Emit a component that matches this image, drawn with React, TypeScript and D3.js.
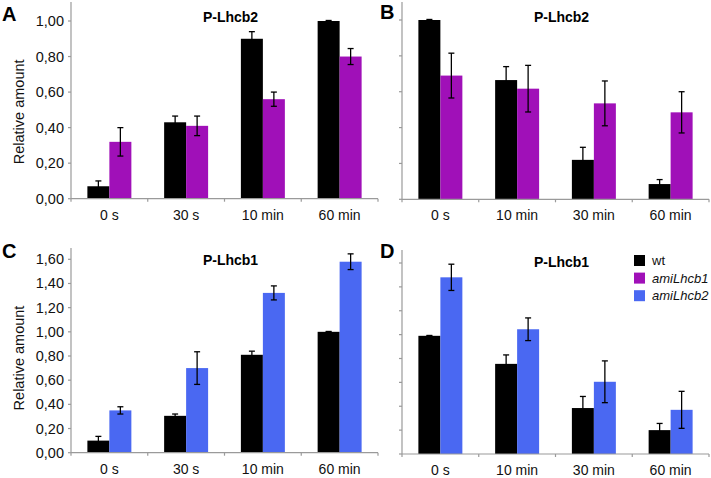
import React from "react";
import * as d3 from "d3";

const catsA = ["0 s", "30 s", "10 min", "60 min"];
const catsB = ["0 s", "10 min", "30 min", "60 min"];

const aWt = [0.07, 0.43, 0.9, 1.0];
const aWtErr = [0.03, 0.035, 0.04, 0.003];
const aMut = [0.32, 0.41, 0.56, 0.8];
const aMutErr = [0.08, 0.055, 0.04, 0.045];

const bWt = [1.0, 0.665, 0.22, 0.085];
const bWtErr = [0.003, 0.075, 0.07, 0.025];
const bMut = [0.69, 0.617, 0.535, 0.485];
const bMutErr = [0.125, 0.13, 0.125, 0.115];

const cWt = [0.1, 0.305, 0.81, 1.0];
const cWtErr = [0.035, 0.015, 0.03, 0.003];
const cMut = [0.35, 0.7, 1.322, 1.58];
const cMutErr = [0.03, 0.135, 0.058, 0.065];

const dWt = [0.99, 0.755, 0.385, 0.2];
const dWtErr = [0.003, 0.075, 0.097, 0.056];
const dMut = [1.48, 1.045, 0.605, 0.37];
const dMutErr = [0.11, 0.095, 0.175, 0.155];

const ticks1 = [0, 0.2, 0.4, 0.6, 0.8, 1.0];
const ticks2 = [0, 0.2, 0.4, 0.6, 0.8, 1.0, 1.2, 1.4, 1.6];

const legendNames = ["wt", "amiLhcb1", "amiLhcb2"];
const legendItalic = [false, true, true];

const BLACK = "#000000";
const PURPLE = "#a010b8";
const BLUE = "#4a68f2";
const AXIS = "#9a9a9a";
const FONT = "Liberation Sans, Arial, sans-serif";

type PanelProps = {
  letter: string;
  title: string;
  cats: string[];
  wt: number[];
  wtErr: number[];
  mut: number[];
  mutErr: number[];
  mutColor: string;
  left: number;
  right: number;
  y0: number;
  yMaxPx: number;
  yMax: number;
  axisTop: number;
  ticks: number[];
  showLabels: boolean;
  letterX: number;
  letterY: number;
  titleY: number;
};

function Panel(p: PanelProps) {
  const y = d3.scaleLinear().domain([0, p.yMax]).range([p.y0, p.yMaxPx]);
  const x0 = d3
    .scaleBand<string>()
    .domain(p.cats)
    .range([p.left, p.right])
    .paddingInner(0.427)
    .paddingOuter(0.2135);
  const x1 = d3
    .scaleBand<string>()
    .domain(["wt", "mut"])
    .range([0, x0.bandwidth()]);
  const step = x0.step();
  const series = [
    { key: "wt", vals: p.wt, errs: p.wtErr, color: BLACK },
    { key: "mut", vals: p.mut, errs: p.mutErr, color: p.mutColor },
  ];
  const cx = (p.left + p.right) / 2 + 6;
  return (
    <g>
      <text x={p.letterX} y={p.letterY} fontFamily={FONT} fontWeight="bold" fontSize={20}>
        {p.letter}
      </text>
      <text x={cx} y={p.titleY} textAnchor="middle" fontFamily={FONT} fontWeight="bold" fontSize={14}>
        {p.title}
      </text>
      {series.map((s) =>
        p.cats.map((c, i) => {
          const bx = (x0(c) as number) + (x1(s.key) as number);
          const bw = x1.bandwidth();
          const v = s.vals[i];
          const e = s.errs[i];
          const mx = bx + bw / 2;
          return (
            <g key={s.key + c}>
              <rect x={bx} y={y(v)} width={bw} height={p.y0 - y(v)} fill={s.color} />
              <line x1={mx} x2={mx} y1={y(v - e)} y2={y(v + e)} stroke="#000" strokeWidth={1.3} />
              <line x1={mx - 3} x2={mx + 3} y1={y(v + e)} y2={y(v + e)} stroke="#000" strokeWidth={1.3} />
              <line x1={mx - 3} x2={mx + 3} y1={y(v - e)} y2={y(v - e)} stroke="#000" strokeWidth={1.3} />
            </g>
          );
        })
      )}
      <line x1={p.left} x2={p.left} y1={p.axisTop} y2={p.y0} stroke={AXIS} strokeWidth={1.2} />
      <line x1={p.left} x2={p.right} y1={p.y0} y2={p.y0} stroke={AXIS} strokeWidth={1.2} />
      {p.ticks.map((t) => (
        <g key={"t" + t}>
          <line x1={p.left - 3} x2={p.left} y1={y(t)} y2={y(t)} stroke={AXIS} strokeWidth={1.2} />
          {p.showLabels && (
            <text
              x={p.left - 7}
              y={y(t) + 5}
              textAnchor="end"
              fontFamily={FONT}
              fontSize={14.5}
              fill="#111"
            >
              {d3.format(".2f")(t).replace(".", ",")}
            </text>
          )}
        </g>
      ))}
      {d3.range(p.cats.length + 1).map((i) => (
        <line
          key={"xt" + i}
          x1={p.left + i * step}
          x2={p.left + i * step}
          y1={p.y0}
          y2={p.y0 + 3}
          stroke={AXIS}
          strokeWidth={1.2}
        />
      ))}
      {p.cats.map((c) => (
        <text
          key={"xl" + c}
          x={(x0(c) as number) + x0.bandwidth() / 2}
          y={p.y0 + 21}
          textAnchor="middle"
          fontFamily={FONT}
          fontSize={14}
          fill="#111"
        >
          {c}
        </text>
      ))}
      {p.showLabels && (
        <text
          transform={`translate(24,${(p.y0 + p.yMaxPx) / 2 + 2}) rotate(-90)`}
          textAnchor="middle"
          fontFamily={FONT}
          fontSize={14.5}
          fill="#111"
        >
          Relative amount
        </text>
      )}
    </g>
  );
}

export default function App() {
  const legendColors = [BLACK, PURPLE, BLUE];
  return (
    <svg
      width={711}
      height={478}
      style={{ position: "absolute", left: 0, top: 0, background: "#fff" }}
    >
      <rect width={711} height={478} fill="#fff" />
      <Panel
        letter="A" title="P-Lhcb2" cats={catsA}
        wt={aWt} wtErr={aWtErr} mut={aMut} mutErr={aMutErr} mutColor={PURPLE}
        left={71} right={378} y0={198.7} yMaxPx={21} yMax={1.0} axisTop={2}
        ticks={ticks1} showLabels={true} letterX={2} letterY={21} titleY={22}
      />
      <Panel
        letter="B" title="P-Lhcb2" cats={catsB}
        wt={bWt} wtErr={bWtErr} mut={bMut} mutErr={bMutErr} mutColor={PURPLE}
        left={402} right={709} y0={199.3} yMaxPx={20} yMax={1.0} axisTop={2}
        ticks={ticks1} showLabels={false} letterX={380} letterY={19} titleY={22}
      />
      <Panel
        letter="C" title="P-Lhcb1" cats={catsA}
        wt={cWt} wtErr={cWtErr} mut={cMut} mutErr={cMutErr} mutColor={BLUE}
        left={71} right={378} y0={452.7} yMaxPx={259.3} yMax={1.6} axisTop={248}
        ticks={ticks2} showLabels={true} letterX={2} letterY={258} titleY={265}
      />
      <Panel
        letter="D" title="P-Lhcb1" cats={catsB}
        wt={dWt} wtErr={dWtErr} mut={dMut} mutErr={dMutErr} mutColor={BLUE}
        left={402} right={709} y0={454} yMaxPx={263} yMax={1.6} axisTop={250}
        ticks={ticks2} showLabels={false} letterX={380} letterY={258} titleY={267}
      />
      {legendNames.map((n, i) => (
        <g key={n} transform={`translate(634,${255 + i * 17.6})`}>
          <rect x={0} y={0} width={11} height={11} fill={legendColors[i]} />
          <text
            x={18}
            y={10}
            fontFamily={FONT}
            fontSize={13}
            fontStyle={legendItalic[i] ? "italic" : "normal"}
            fill="#111"
          >
            {n}
          </text>
        </g>
      ))}
    </svg>
  );
}
